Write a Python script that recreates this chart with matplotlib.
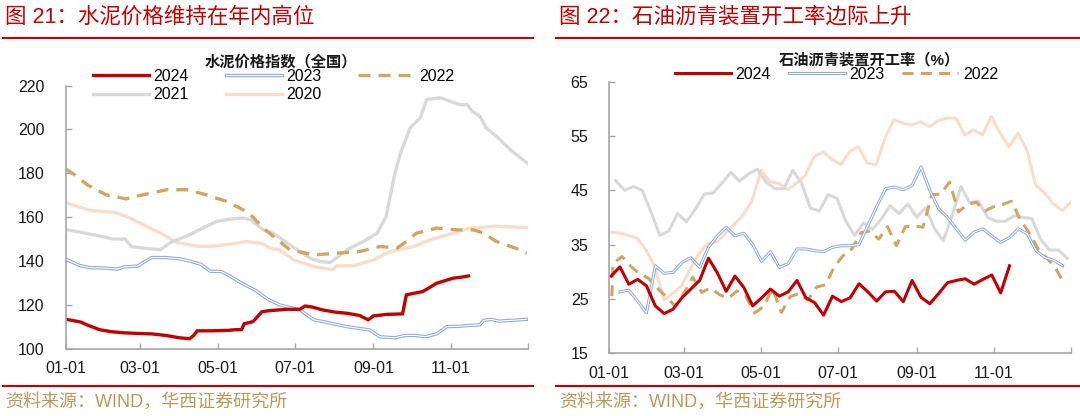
import numpy as np
import matplotlib
matplotlib.use('Agg')
import matplotlib.pyplot as plt
from matplotlib.lines import Line2D

plt.rcParams['font.family'] = ['Liberation Sans', 'Noto Sans CJK SC']

# x axis: day of year
month_days = [0, 59, 120, 181, 243, 304, 365]
month_labels = ['01-01', '03-01', '05-01', '07-01', '09-01', '11-01', '']

# ---- cement price index (nationwide) ----
cem24_day = [0, 12, 17, 27, 36, 46, 57, 68, 79, 90, 98, 101, 104, 115, 128, 134, 139, 141,
             148, 155, 161, 175, 185, 189, 195, 203, 213, 222, 232, 239, 243, 254, 266, 269,
             282, 293, 306, 312, 318]
cem24_val = [113.5, 112.2, 110.9, 108.7, 107.8, 107.3, 107.0, 106.8, 106.1, 105.0, 104.6, 106.0,
             108.2, 108.2, 108.4, 108.7, 108.7, 111.4, 112.4, 116.9, 117.4, 118.0, 118.0, 119.5,
             119.0, 117.7, 116.7, 116.2, 115.2, 113.2, 115.0, 115.7, 115.9, 124.6, 126.1, 129.9,
             132.2, 132.6, 133.2]

cem23_day = [0, 11, 19, 30, 41, 46, 57, 62, 68, 79, 90, 98, 107, 114, 123, 131, 139, 150, 160,
             169, 185, 196, 205, 222, 240, 248, 260, 268, 276, 284, 293, 301, 309, 317, 327, 330,
             336, 342, 350, 364]
cem23_val = [140.9, 138.0, 137.0, 136.8, 136.3, 137.3, 137.7, 139.5, 141.6, 141.6, 141.0, 140.0,
             138.5, 135.4, 135.2, 132.7, 129.9, 126.6, 122.5, 120.0, 117.7, 113.2, 112.2, 110.1,
             108.6, 105.5, 105.0, 106.1, 106.1, 105.5, 106.8, 110.1, 110.2, 110.6, 110.9, 113.0,
             113.4, 112.6, 112.9, 113.4]

cem22_day = [0, 7, 17, 22, 32, 48, 61, 80, 96, 111, 127, 140, 148, 156, 169, 177, 196, 215, 232,
             248, 262, 268, 277, 293, 309, 322, 330, 340, 355, 364]
cem22_val = [182.0, 179.4, 174.8, 173.3, 170.2, 168.3, 170.2, 172.5, 172.5, 170.2, 167.2, 163.4,
             160.0, 155.0, 148.9, 145.1, 142.8, 143.6, 144.3, 146.6, 146.0, 148.5, 152.7, 155.0,
             154.2, 154.2, 152.7, 148.9, 145.9, 143.5]

cem21_day = [0, 22, 38, 47, 52, 61, 75, 82, 98, 111, 119, 130, 140, 146, 156, 164, 177, 193, 201,
             209, 222, 235, 246, 253, 260, 264, 272, 280, 285, 296, 311, 317, 321, 327, 332, 340,
             351, 365]
cem21_val = [154.4, 152.0, 150.0, 150.0, 146.6, 145.9, 145.1, 148.2, 152.0, 155.8, 158.0, 159.1,
             159.6, 158.8, 154.2, 152.7, 147.4, 141.3, 139.8, 139.3, 145.1, 148.9, 152.7, 160.3,
             180.1, 188.5, 200.7, 205.3, 213.6, 214.4, 211.3, 211.3, 208.3, 206.0, 200.7, 196.9,
             190.8, 184.3]

cem20_day = [0, 19, 39, 48, 60, 75, 88, 106, 119, 132, 143, 156, 161, 169, 180, 196, 211, 214,
             227, 243, 256, 275, 288, 306, 319, 340, 365]
cem20_val = [166.7, 163.1, 162.1, 160.3, 157.0, 152.7, 148.4, 146.6, 146.9, 147.9, 148.9, 147.9,
             145.9, 145.1, 140.5, 137.5, 136.0, 137.8, 137.8, 140.5, 144.3, 146.6, 149.7, 152.7,
             155.0, 155.8, 155.2]

# ---- asphalt plant operating rate (%), weekly ----
asp24 = [29.2, 30.9, 27.7, 28.6, 27.4, 23.7, 22.3, 23.1, 25.2, 26.8, 28.4, 32.5, 29.8, 26.4,
         29.2, 27.1, 23.7, 25.2, 26.8, 25.5, 26.3, 28.4, 25.2, 24.3, 22.0, 25.5, 24.5, 25.2,
         27.8, 26.3, 24.6, 26.3, 26.4, 24.5, 28.4, 25.3, 24.1, 26.0, 28.0, 28.4, 28.7, 27.7,
         28.6, 29.4, 26.1, 31.1]
asp23 = [26.3, 26.6, 24.6, 22.4, 31.1, 29.7, 29.9, 31.7, 32.6, 30.8, 34.5, 36.6, 38.2, 36.6,
         37.1, 35.0, 31.9, 33.7, 30.8, 31.5, 34.2, 34.2, 33.9, 33.7, 34.5, 34.8, 34.8, 35.0,
         38.5, 42.0, 45.3, 45.6, 45.1, 45.9, 49.3, 45.0, 41.6, 40.0, 37.9, 35.8, 37.3, 37.9,
         36.6, 35.4, 36.3, 37.9, 37.0, 33.9, 32.6, 32.1, 31.1]
asp22 = [25.5, 31.5, 32.8, 31.0, 29.6, 28.8, 27.0, 25.4, 23.7, 26.0, 29.0, 26.2, 27.0, 25.8,
         25.1, 26.5, 25.5, 22.4, 23.6, 26.9, 22.5, 25.4, 26.0, 24.8, 27.2, 27.6, 31.0, 33.0,
         34.3, 37.2, 37.5, 36.0, 38.3, 34.8, 38.3, 38.4, 38.2, 44.2, 44.3, 46.5, 41.0, 42.4,
         42.8, 41.2, 42.0, 42.4, 43.0, 39.5, 37.2, 34.2, 32.5, 30.6, 27.6]
asp21 = [46.8, 45.0, 45.7, 45.0, 41.0, 36.7, 37.5, 40.7, 39.2, 41.5, 44.3, 44.5, 46.3, 48.3,
         46.7, 48.0, 48.9, 46.5, 45.3, 45.3, 48.7, 46.3, 41.7, 41.2, 44.2, 43.5, 39.3, 36.7,
         39.0, 37.8, 39.7, 42.2, 40.7, 42.5, 40.0, 41.8, 38.0, 35.7, 40.3, 45.7, 42.7, 43.0,
         40.0, 39.3, 39.3, 40.3, 40.0, 39.8, 36.0, 34.0, 34.0, 32.5]
asp20 = [37.3, 37.1, 36.7, 36.2, 34.0, 31.0, 24.8, 26.0, 27.4, 30.5, 33.4, 35.2, 35.5, 37.1,
         38.8, 40.5, 43.2, 48.7, 46.6, 46.3, 45.1, 46.3, 47.8, 51.2, 52.1, 50.7, 49.7, 52.1,
         53.0, 50.0, 49.7, 54.6, 58.0, 57.4, 57.0, 57.6, 56.7, 57.8, 58.3, 58.3, 55.2, 56.1,
         55.2, 58.6, 55.5, 53.0, 55.5, 52.5, 46.0, 44.5, 42.5, 41.3, 42.8]

# first reporting day of each year's weekly series
asp24_day = 1.4 + 7 * np.arange(len(asp24))
asp23_day = 8.4 + 7 * np.arange(len(asp23))
asp22_day = np.concatenate([[2.0], 3 + 7 * np.arange(len(asp22) - 1)])
asp21_day = 5 + 7 * np.arange(len(asp21))
asp20_day = 1 + 7 * np.arange(len(asp20))

RED = '#C00000'
BLUE = '#8FAADC'
TAN = '#D1A562'
GRAY = '#D9D9D9'
PEACH = '#F9DDCC'
AXIS = '#A6A6A6'
SRC = '#BF975B'

W, H = 1080, 416
fig = plt.figure(figsize=(W / 100, H / 100), dpi=100)


def px_box(x0, y_top, x1, y_bot):
    return [x0 / W, 1 - y_bot / H, (x1 - x0) / W, (y_bot - y_top) / H]


def draw_series(ax, lw, s20, s21, s22, s23, s24):
    l20, = ax.plot(*s20, color=PEACH, lw=lw)
    l21, = ax.plot(*s21, color=GRAY, lw=lw)
    l22, = ax.plot(*s22, color=TAN, lw=lw, dashes=(3.6, 2.4))
    l23a, = ax.plot(*s23, color=BLUE, lw=lw)
    l23b, = ax.plot(*s23, color='white', lw=lw * 0.35)
    l24, = ax.plot(*s24, color=RED, lw=lw)
    return l24, (l23a, l23b), l22, l21, l20


def style_axes(ax, ylim, yticks):
    ax.set_xlim(0, 365)
    ax.set_ylim(*ylim)
    ax.set_xticks(month_days)
    ax.set_xticklabels(month_labels)
    ax.set_yticks(yticks)
    for s in ['top', 'right']:
        ax.spines[s].set_visible(False)
    for s in ['left', 'bottom']:
        ax.spines[s].set_color(AXIS)
        ax.spines[s].set_linewidth(1.2)
    ax.tick_params(axis='both', direction='in', length=4, width=1, color=AXIS,
                   labelsize=11.5, labelcolor='#1a1a1a')
    ax.tick_params(axis='y', pad=15)
    ax.tick_params(axis='x', pad=9)


# left panel: cement price index
ax1 = fig.add_axes(px_box(65.5, 85.5, 528, 348.8))
h1 = draw_series(ax1, 2.4, (cem20_day, cem20_val), (cem21_day, cem21_val),
                 (cem22_day, cem22_val), (cem23_day, cem23_val), (cem24_day, cem24_val))
style_axes(ax1, (100, 220), range(100, 221, 20))

# right panel: asphalt operating rate
ax2 = fig.add_axes(px_box(609.3, 81.7, 1071, 353.2))
h2 = draw_series(ax2, 2.2, (asp20_day, asp20), (asp21_day, asp21), (asp22_day, asp22),
                 (asp23_day, asp23), (asp24_day, asp24))
style_axes(ax2, (15, 65), range(15, 66, 10))

# legends
fig.legend([h1[0], h1[3], h1[1], h1[4], h1[2]], ['2024', '2021', '2023', '2020', '2022'],
           ncol=3, loc='center', bbox_to_anchor=(273.5 / W, 1 - 85.5 / H), frameon=False,
           fontsize=11.5, handlelength=3.5, handletextpad=0.3, columnspacing=2.3,
           labelspacing=0.25, borderpad=0, borderaxespad=0)
fig.legend([h2[0], h2[1], h2[2]], ['2024', '2023', '2022'],
           ncol=3, loc='center', bbox_to_anchor=(836.5 / W, 1 - 74.5 / H), frameon=False,
           fontsize=11.5, handlelength=3.5, handletextpad=0.3, columnspacing=1.1,
           borderpad=0, borderaxespad=0)

fig.text(281 / W, 1 - 62 / H, '水泥价格指数（全国）', ha='center', va='center',
         fontsize=11, fontweight='bold', color='#1a1a1a')
fig.text(869 / W, 1 - 60 / H, '石油沥青装置开工率（%）', ha='center', va='center',
         fontsize=11, fontweight='bold', color='#1a1a1a')

# titles, rules and source notes
fig.text(5 / W, 1 - 17 / H, '图 21：水泥价格维持在年内高位', color=RED, fontsize=15.5, va='center')
fig.text(559 / W, 1 - 17 / H, '图 22：石油沥青装置开工率边际上升', color=RED, fontsize=15.5, va='center')
for x0, x1 in [(3, 533), (556, 1080)]:
    fig.add_artist(Line2D([x0 / W, x1 / W], [1 - 38 / H] * 2, color=RED, lw=1.5))
    fig.add_artist(Line2D([x0 / W, x1 / W], [1 - 386 / H] * 2, color=RED, lw=1.5))
fig.text(5 / W, 1 - 402 / H, '资料来源：WIND，华西证券研究所', color=SRC, fontsize=13, va='center')
fig.text(559 / W, 1 - 402 / H, '资料来源：WIND，华西证券研究所', color=SRC, fontsize=13, va='center')

fig.savefig('out.png', dpi=100)
